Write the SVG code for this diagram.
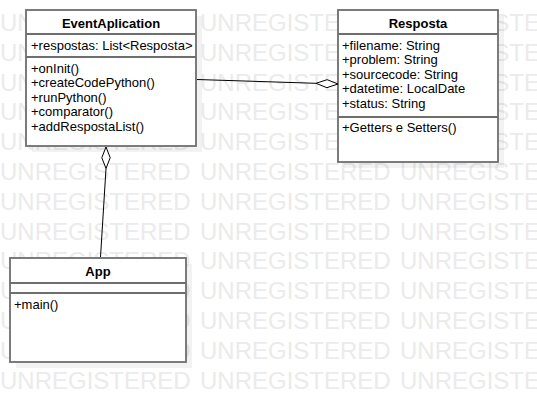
<svg xmlns="http://www.w3.org/2000/svg" xmlns:xlink="http://www.w3.org/1999/xlink" width="537" height="402" viewBox="0 0 537 402">
<style>
.wm{font-family:"Liberation Sans",Arial,sans-serif;font-size:24px;fill:#ebebeb}
.shadow{fill:#000;fill-opacity:0.05;stroke:none}
.box{fill:#fff;stroke:#6e6e6e;stroke-width:1.8}
.div{stroke:#6e6e6e;stroke-width:1.8;fill:none}
.name{font-family:"Liberation Sans",Arial,sans-serif;font-size:13px;font-weight:bold;fill:#000;text-anchor:middle}
.mem{font-family:"Liberation Sans",Arial,sans-serif;font-size:13px;fill:#000}
.conn{stroke:#000;stroke-width:1;fill:none}
.dia{stroke:#000;stroke-width:1;fill:#fff}
</style>
<defs>
<g id="wmrow">
<text class="wm" x="0" y="0">UNREGISTERED</text>
<text class="wm" x="200" y="0">UNREGISTERED</text>
<text class="wm" x="400" y="0">UNREGISTERED</text>
</g>
</defs>
<rect width="537" height="402" fill="#fff"/>
<g id="watermark">
<use xlink:href="#wmrow" y="31"/>
<use xlink:href="#wmrow" y="60.8"/>
<use xlink:href="#wmrow" y="90.6"/>
<use xlink:href="#wmrow" y="120.4"/>
<use xlink:href="#wmrow" y="150.2"/>
<use xlink:href="#wmrow" y="180"/>
<use xlink:href="#wmrow" y="209.8"/>
<use xlink:href="#wmrow" y="239.6"/>
<use xlink:href="#wmrow" y="269.4"/>
<use xlink:href="#wmrow" y="299.2"/>
<use xlink:href="#wmrow" y="329"/>
<use xlink:href="#wmrow" y="358.8"/>
<use xlink:href="#wmrow" y="388.6"/>
</g>
<g id="EventAplication">
<rect class="shadow" x="32" y="16" width="170" height="136"/>
<rect class="box" x="26" y="10" width="170" height="136"/>
<line class="div" x1="26" y1="34" x2="196" y2="34"/>
<line class="div" x1="26" y1="57" x2="196" y2="57"/>
<text class="name" x="111" y="27.5">EventAplication</text>
<text class="mem" x="31" y="50">+respostas: List&lt;Resposta&gt;</text>
<text class="mem" x="31" y="72.5">+onInit()</text>
<text class="mem" x="31" y="87">+createCodePython()</text>
<text class="mem" x="31" y="101.5">+runPython()</text>
<text class="mem" x="31" y="116">+comparator()</text>
<text class="mem" x="31" y="130.5">+addRespostaList()</text>
</g>
<g id="Resposta">
<rect class="shadow" x="344" y="16" width="160" height="152"/>
<rect class="box" x="338" y="10" width="160" height="152"/>
<line class="div" x1="338" y1="34" x2="498" y2="34"/>
<line class="div" x1="338" y1="117" x2="498" y2="117"/>
<text class="name" x="418" y="27.5">Resposta</text>
<text class="mem" x="342" y="49.5">+filename: String</text>
<text class="mem" x="342" y="64">+problem: String</text>
<text class="mem" x="342" y="78.5">+sourcecode: String</text>
<text class="mem" x="342" y="93">+datetime: LocalDate</text>
<text class="mem" x="342" y="107.5">+status: String</text>
<text class="mem" x="342" y="132">+Getters e Setters()</text>
</g>
<g id="App">
<rect class="shadow" x="16" y="264" width="176" height="104"/>
<rect class="box" x="10" y="258" width="176" height="104"/>
<line class="div" x1="10" y1="283" x2="186" y2="283"/>
<line class="div" x1="10" y1="293" x2="186" y2="293"/>
<text class="name" x="98" y="276">App</text>
<text class="mem" x="14" y="309">+main()</text>
</g>
<g id="connectors">
<line class="conn" x1="197" y1="79.5" x2="316" y2="83.3"/>
<polygon class="dia" points="338,84 327.1,79.7 316,83.3 326.9,87.7"/>
<line class="conn" x1="106" y1="168.5" x2="100.5" y2="257"/>
<polygon class="dia" points="106,147 110.2,157.7 106,168.5 101.8,157.7"/>
</g>
</svg>
